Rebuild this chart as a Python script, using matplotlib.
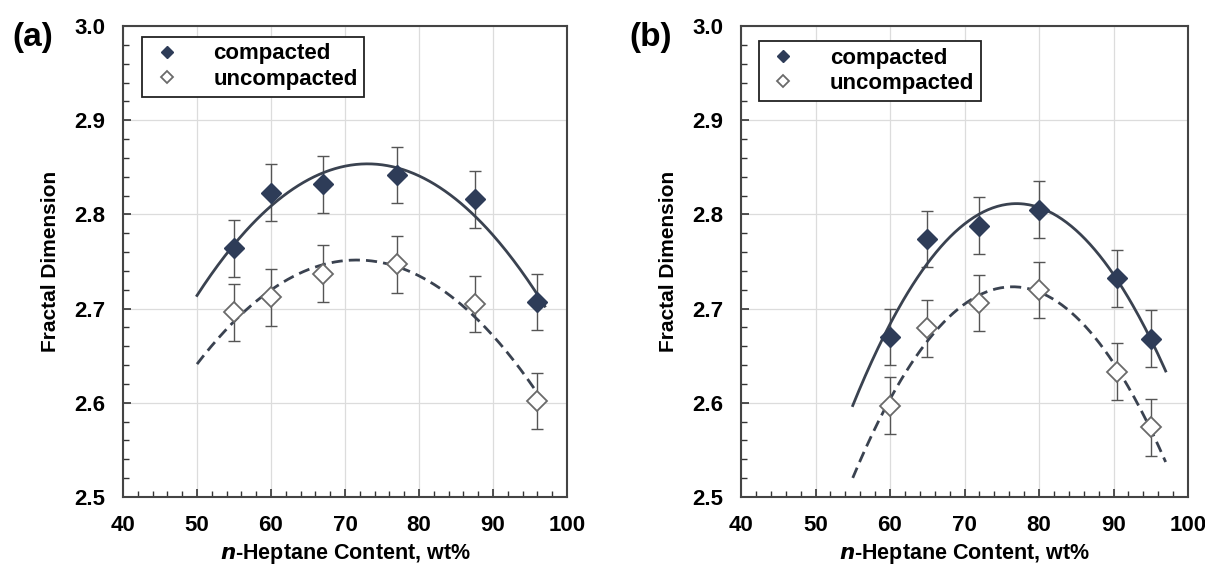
import numpy as np
import matplotlib
matplotlib.use("Agg")
import matplotlib.pyplot as plt
from matplotlib.ticker import MultipleLocator

plt.rcParams['font.family'] = ['Liberation Sans', 'DejaVu Sans']
plt.rcParams['font.weight'] = 'bold'

# panel (a)
xa = [55, 60, 67, 77, 87.5, 96]
a_comp = [2.764, 2.823, 2.832, 2.842, 2.816, 2.707]
a_unc = [2.696, 2.712, 2.737, 2.747, 2.705, 2.602]
a_err = [0.03, 0.03, 0.03, 0.03, 0.03, 0.03]
a_fit_range = [50, 97]

# panel (b)
xb = [60, 65, 72, 80, 90.5, 95]
b_comp = [2.670, 2.774, 2.788, 2.805, 2.732, 2.668]
b_unc = [2.597, 2.679, 2.706, 2.720, 2.633, 2.574]
b_err = [0.03, 0.03, 0.03, 0.03, 0.03, 0.03]
b_fit_range = [55, 97]

labels = ["compacted", "uncompacted"]
panel_tags = ["(a)", "(b)"]

dark = '#2e3c58'
line_col = '#3a4250'
err_col = '#555555'
open_edge = '#6a6a6a'

fig = plt.figure(figsize=(12.05, 5.69), dpi=100)
ax_a = fig.add_axes([123/1205, 72/569, 444/1205, 471/569])
ax_b = fig.add_axes([741/1205, 72/569, 447/1205, 471/569])


def draw(ax, x, comp, unc, err, fit_range, tag, leg_anchor):
    x = np.array(x)
    xs = np.linspace(fit_range[0], fit_range[1], 200)
    # 2nd order trend lines, as in the original
    pc = np.polyfit(x, comp, 2)
    pu = np.polyfit(x, unc, 2)
    ax.plot(xs, np.polyval(pc, xs), color=line_col, lw=2, zorder=3)
    ax.plot(xs, np.polyval(pu, xs), color=line_col, lw=2, ls=(0, (4, 2.2)), zorder=3)

    ax.errorbar(x, comp, yerr=err, fmt='none', ecolor=err_col, elinewidth=1,
                capsize=4, capthick=1, zorder=2)
    ax.errorbar(x, unc, yerr=err, fmt='none', ecolor=err_col, elinewidth=1,
                capsize=4, capthick=1, zorder=2)
    ax.plot(x, comp, 'D', ms=10.5, color=dark, mec=dark, zorder=4, label=labels[0])
    ax.plot(x, unc, 'D', ms=10.5, mfc='white', mec=open_edge, mew=1.3, zorder=4,
            label=labels[1])

    ax.set_xlim(40, 100)
    ax.set_ylim(2.5, 3.0)
    ax.xaxis.set_major_locator(MultipleLocator(10))
    ax.xaxis.set_minor_locator(MultipleLocator(2))
    ax.yaxis.set_major_locator(MultipleLocator(0.1))
    ax.yaxis.set_minor_locator(MultipleLocator(0.02))
    ax.yaxis.set_major_formatter(matplotlib.ticker.FormatStrFormatter('%.1f'))
    ax.tick_params(which='both', direction='in', top=False, right=False,
                   labelsize=16, color='#333333')
    ax.tick_params(which='major', length=6, width=1.2, pad=13)
    ax.tick_params(which='minor', length=4, width=1)
    ax.grid(True, which='major', color='#dcdcdc', lw=0.9)
    ax.set_axisbelow(True)
    for s in ax.spines.values():
        s.set_color('#444444')
        s.set_linewidth(1.5)

    ax.set_xlabel(r'$\bf{\it{n}}$-Heptane Content, wt%', fontsize=15.5, fontweight='bold',
                  labelpad=4)
    ax.set_ylabel('Fractal Dimension', fontsize=15, fontweight='bold', labelpad=10)

    leg = ax.legend(loc='upper left', bbox_to_anchor=leg_anchor, borderaxespad=0,
                    fancybox=False, framealpha=1, edgecolor='#222222', fontsize=16,
                    markerscale=0.55, handlelength=1.6, handletextpad=1.3,
                    borderpad=0.3, labelspacing=0.2)
    leg.get_frame().set_linewidth(1.3)

    ax.text(-0.25, 0.975, tag, transform=ax.transAxes, fontsize=24, fontweight='bold',
            ha='left', va='center')


draw(ax_a, xa, a_comp, a_unc, a_err, a_fit_range, panel_tags[0], (0.043, 0.977))
draw(ax_b, xb, b_comp, b_unc, b_err, b_fit_range, panel_tags[1], (0.040, 0.968))

fig.savefig('out.png', dpi=100, facecolor='white')
